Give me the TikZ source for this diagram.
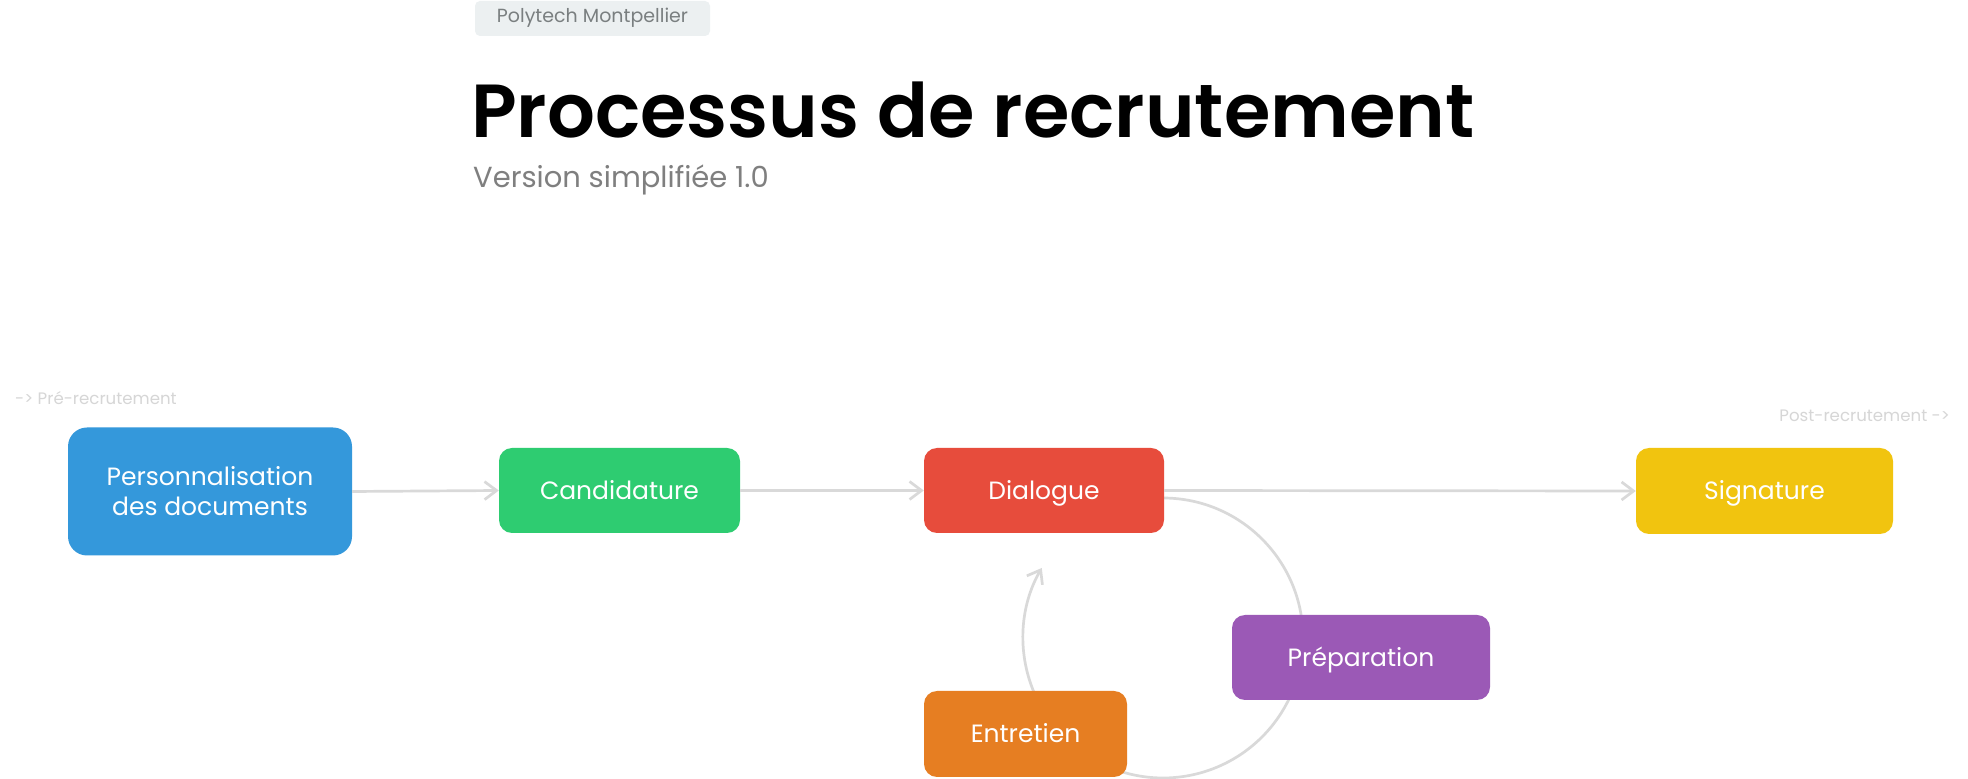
\documentclass[tikz,border=0pt]{standalone}
\usepackage{fontspec}
\setmainfont{Poppins}
\newfontfamily\titlefont{Poppins SemiBold}
\usetikzlibrary{arrows.meta,backgrounds,calc}
\definecolor{cblue}{HTML}{3498DB}
\definecolor{cgreen}{HTML}{2ECC71}
\definecolor{cred}{HTML}{E74C3C}
\definecolor{cyellow}{HTML}{F1C40F}
\definecolor{cpurple}{HTML}{9B59B6}
\definecolor{corange}{HTML}{E67E22}
\definecolor{cline}{HTML}{D9D9D9}
\definecolor{ctag}{HTML}{ECF0F1}
\definecolor{ctagtext}{HTML}{7A7F80}
\definecolor{csub}{HTML}{7F7F7F}
\definecolor{cfaint}{HTML}{D6D6D6}
\begin{document}
\begin{tikzpicture}[x=1pt,y=1pt,
  boxbase/.style={rounded corners=13pt, text=white, inner sep=0pt, align=center,
    font=\fontsize{25}{30}\selectfont, minimum height=85pt},
  box/.style={boxbase, text height=18pt, text depth=0pt},
  conn/.style={draw=cline, line width=2.7pt},
  tipped/.style={-{Straight Barb[length=12pt,width=18pt]}},
  faint/.style={text=cfaint, inner sep=0pt, font=\fontsize{16.6}{20}\selectfont}]
\useasboundingbox (0,0) rectangle (1968,779);

% tag and titles
\fill[ctag, rounded corners=5pt] (475,743) rectangle (710,778);
\node[inner sep=0pt, text=ctagtext, font=\fontsize{19}{23}\selectfont] (tag) at (592.5,761) {Polytech Montpellier};
\node[anchor=base west, inner sep=0pt, font=\titlefont\fontsize{75.2}{85}\selectfont] (title) at (471,641) {Processus de recrutement};
\node[anchor=base west, inner sep=0pt, text=csub, font=\fontsize{29}{34}\selectfont] (sub) at (473,591) {Version simplifiée 1.0};
\node[faint, anchor=base west] (pre) at (15,374) {-> Pré-recrutement};
\node[faint, anchor=base east] (post) at (1950,357) {Post-recrutement ->};

% nodes
\node[boxbase, fill=cblue, rounded corners=19pt, minimum width=284pt, minimum height=128pt] (pers) at (210,287.5) {Personnalisation\\des documents};
\node[box, fill=cgreen, minimum width=241pt] (cand) at (619.5,288.5) {Candidature};
\node[box, fill=cred, minimum width=240pt] (dial) at (1044,288.5) {Dialogue};
\node[box, fill=cyellow, minimum width=257pt, minimum height=86pt] (sign) at (1764.5,288) {Signature};
\node[box, fill=cpurple, minimum width=258pt] (prep) at (1361,121.5) {Préparation};
\node[box, fill=corange, minimum width=203pt, minimum height=86pt] (entr) at (1025.5,45) {Entretien};

% straight connectors
\draw[conn, tipped] (pers.east) -- (cand.west);
\draw[conn, tipped] (cand.east) -- (dial.west);
\draw[conn, tipped] (dial.east) -- (sign.west);

% loop connectors (behind the boxes)
\coordinate (cc) at (1163,141);
\begin{pgfonlayer}{background}
\fill[white] (0,0) rectangle (1968,779);
\draw[conn] ($(cc)+(90:140)$) arc[start angle=90, end angle=0, radius=140];
\draw[conn] ($(cc)+(-15:140)$) arc[start angle=-15, end angle=-108, radius=140];
\draw[conn, tipped] ($(cc)+(205:140)$) arc[start angle=205, end angle=150, radius=140];
\end{pgfonlayer}
\end{tikzpicture}
\end{document}
